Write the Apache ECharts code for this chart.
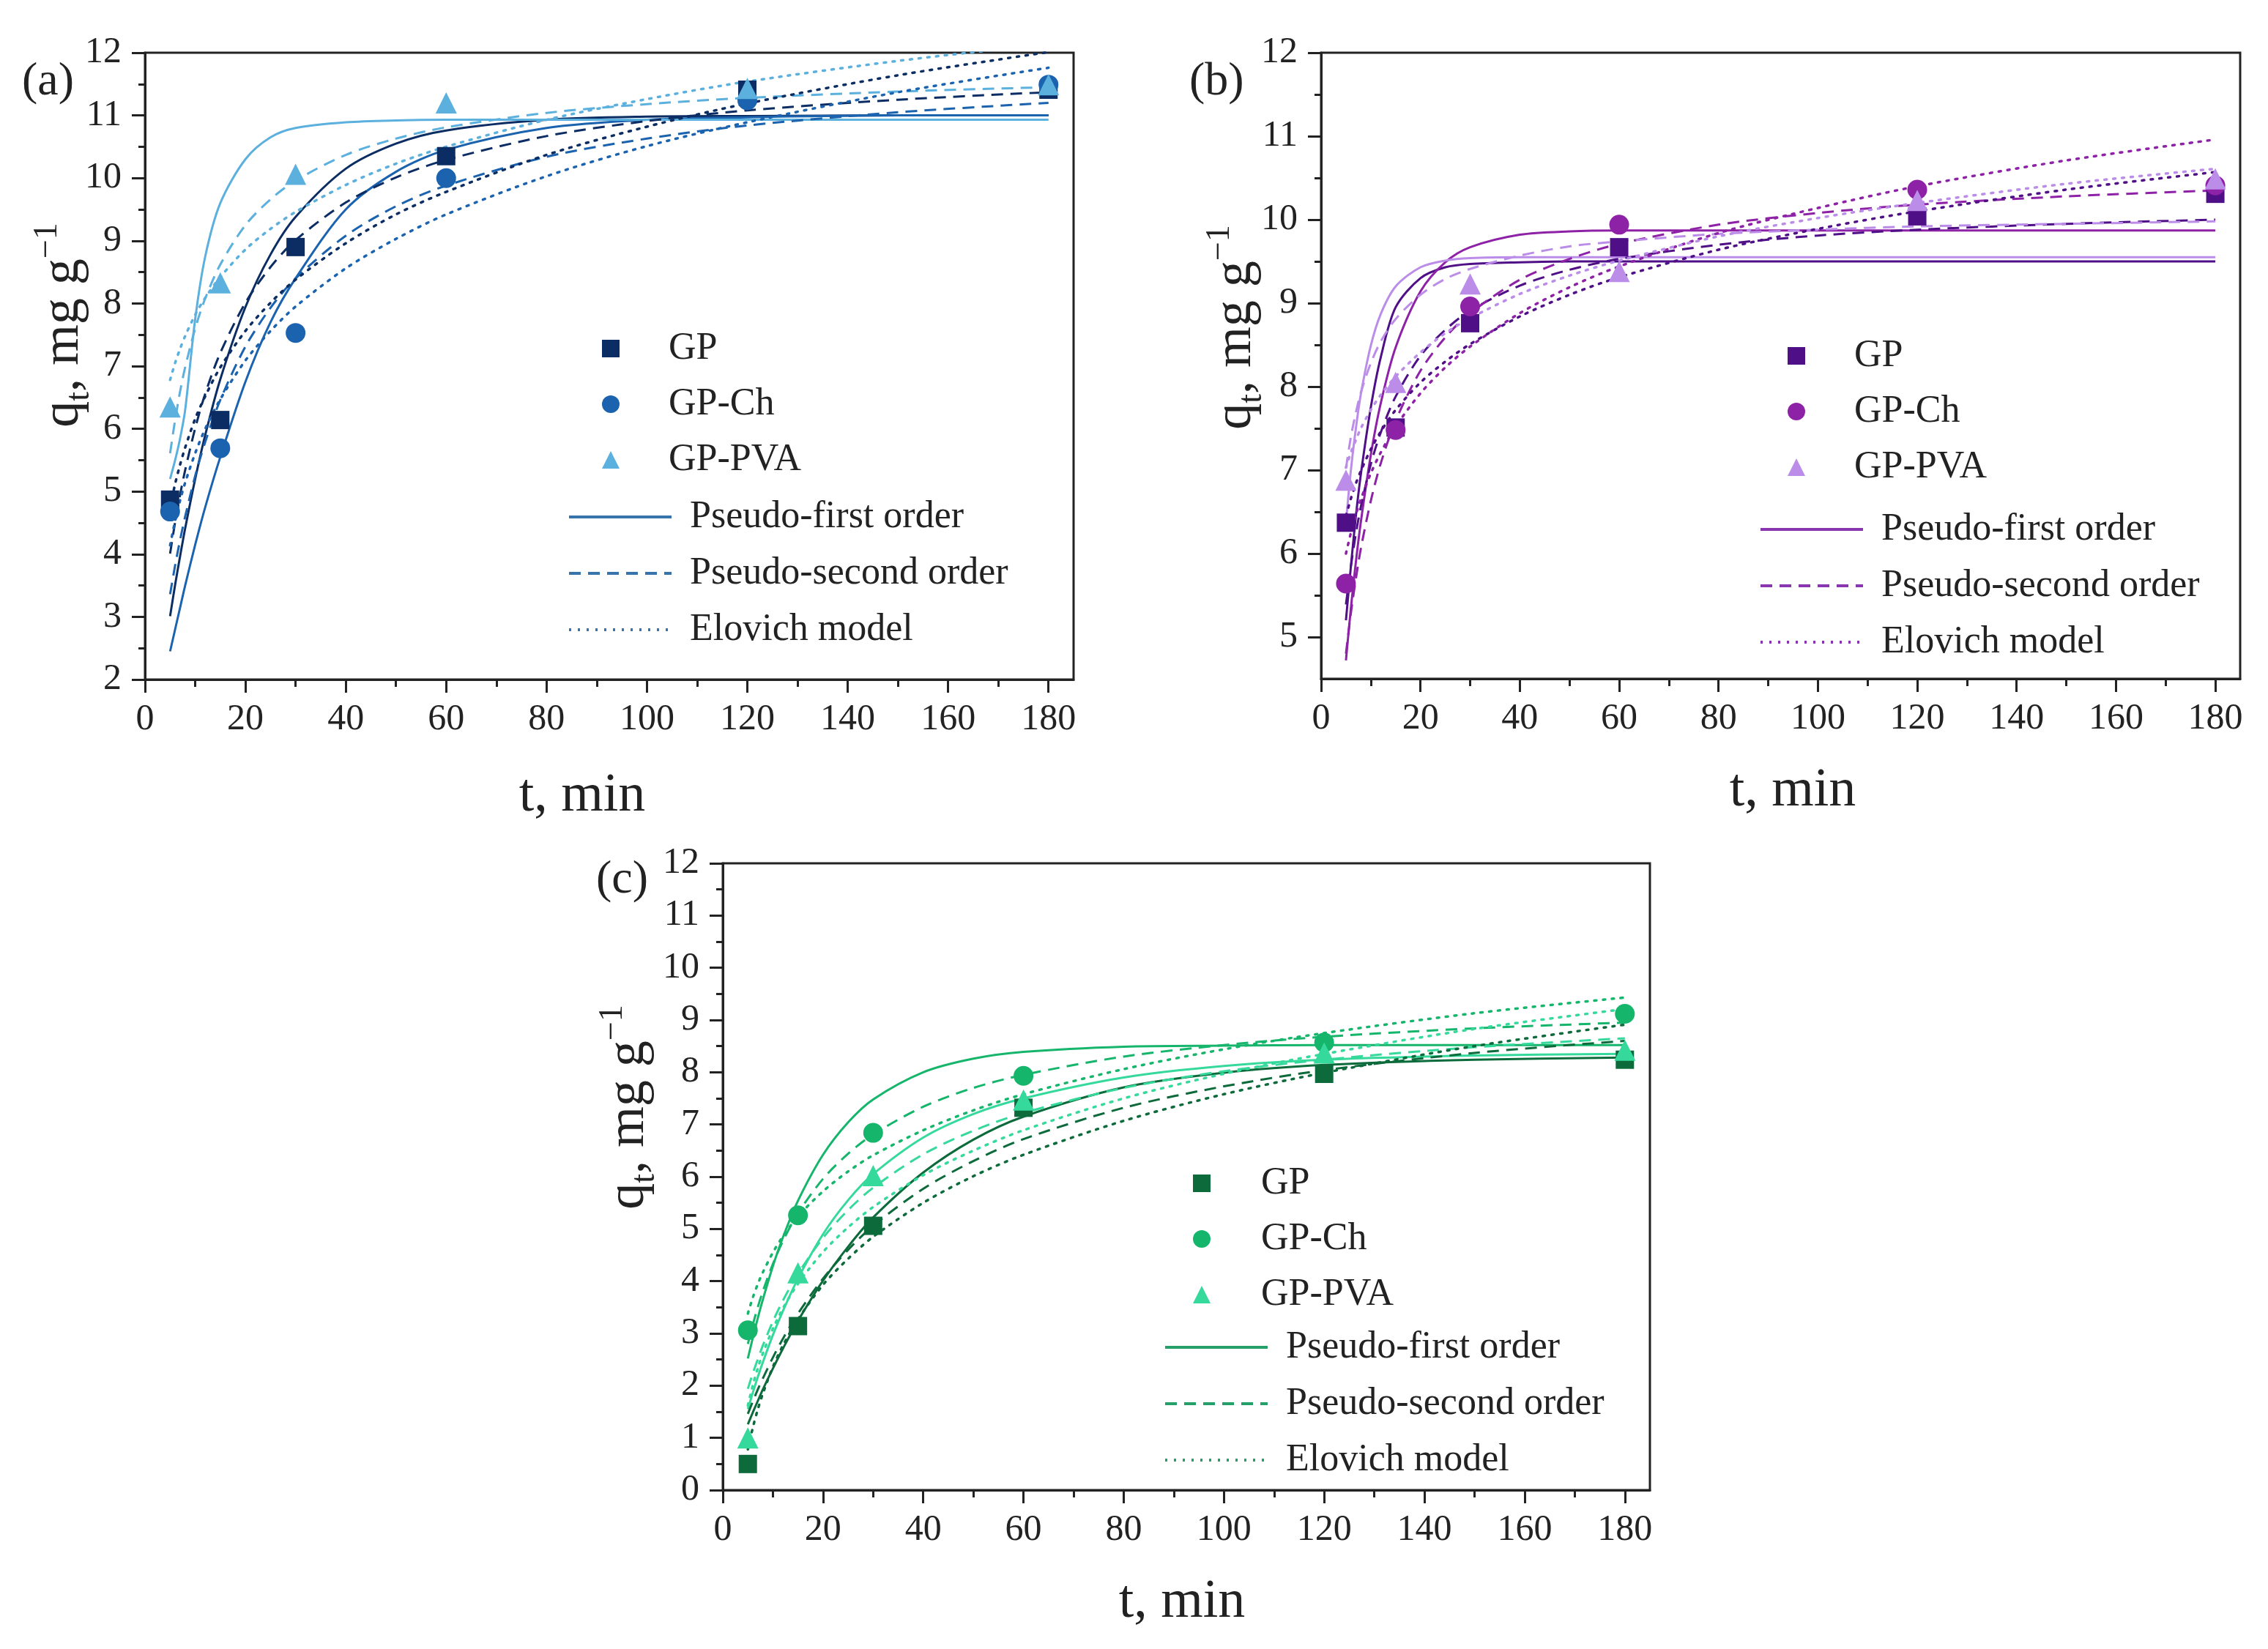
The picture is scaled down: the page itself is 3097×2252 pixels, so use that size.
<!DOCTYPE html>
<html>
<head>
<meta charset="utf-8">
<script src="https://cdn.jsdelivr.net/npm/echarts@6/dist/echarts.min.js"></script>
<style>
  html, body { margin: 0; padding: 0; background: #fff; }
  #chart { width: 3097px; height: 2252px; }
</style>
</head>
<body>
<div id="chart"></div>
<script>
// time points of the measurements and of the fitted curves (min)
const tData = [5, 15, 30, 60, 120, 180];
const tFit = [5, 6, 7, 8, 10, 12, 15, 20, 25, 30, 40, 50, 60, 80, 100, 120, 150, 180];

// tick values
const xMajor = [0, 20, 40, 60, 80, 100, 120, 140, 160, 180];
const xMinor = [10, 30, 50, 70, 90, 110, 130, 150, 170];
const yMajorA = [2, 3, 4, 5, 6, 7, 8, 9, 10, 11, 12];
const yMinorA = [2.5, 3.5, 4.5, 5.5, 6.5, 7.5, 8.5, 9.5, 10.5, 11.5];
const yMajorB = [5, 6, 7, 8, 9, 10, 11, 12];
const yMinorB = [5.5, 6.5, 7.5, 8.5, 9.5, 10.5, 11.5];
const yMajorC = [0, 1, 2, 3, 4, 5, 6, 7, 8, 9, 10, 11, 12];
const yMinorC = [0.5, 1.5, 2.5, 3.5, 4.5, 5.5, 6.5, 7.5, 8.5, 9.5, 10.5, 11.5];

const sampleNames = ['GP', 'GP-Ch', 'GP-PVA'];
const modelNames = ['Pseudo-first order', 'Pseudo-second order', 'Elovich model'];

// (a) measured q_t
const aGP = [4.87, 6.14, 8.9, 10.35, 11.41, 11.41];
const aCh = [4.68, 5.69, 7.53, 10.0, 11.24, 11.49];
const aPVA = [6.35, 8.33, 10.06, 11.2, 11.43, 11.49];
// (a) fitted curves
const aPfoGP = [3.01, 3.51, 3.97, 4.41, 5.2, 5.9, 6.79, 7.94, 8.78, 9.38, 10.15, 10.55, 10.76, 10.93, 10.98, 10.99, 11.0, 11.0];
const aPfoCh = [2.45, 2.8, 3.15, 3.5, 4.15, 4.75, 5.55, 6.75, 7.7, 8.4, 9.5, 10.1, 10.45, 10.8, 10.93, 10.97, 11.0, 11.0];
const aPfoPVA = [5.2, 5.5, 5.85, 6.3, 7.75, 8.75, 9.6, 10.3, 10.65, 10.8, 10.89, 10.92, 10.93, 10.93, 10.93, 10.93, 10.93, 10.93];
const aPsoGP = [4.01, 4.51, 4.95, 5.34, 6.01, 6.56, 7.21, 8.01, 8.58, 9.01, 9.61, 10.01, 10.29, 10.67, 10.91, 11.08, 11.25, 11.37];
const aPsoCh = [3.36, 3.82, 4.23, 4.6, 5.25, 5.79, 6.46, 7.31, 7.93, 8.4, 9.08, 9.55, 9.88, 10.34, 10.63, 10.84, 11.05, 11.2];
const aPsoPVA = [5.61, 6.14, 6.6, 6.98, 7.6, 8.08, 8.62, 9.25, 9.66, 9.96, 10.37, 10.63, 10.81, 11.04, 11.18, 11.28, 11.38, 11.45];
const aEloGP = [4.75, 5.12, 5.43, 5.7, 6.16, 6.52, 6.98, 7.56, 8.01, 8.38, 8.96, 9.42, 9.78, 10.37, 10.82, 11.19, 11.64, 12.01];
const aEloCh = [4.14, 4.53, 4.86, 5.14, 5.61, 6.0, 6.47, 7.09, 7.56, 7.95, 8.56, 9.03, 9.42, 10.03, 10.51, 10.89, 11.37, 11.76];
const aEloPVA = [6.78, 7.05, 7.28, 7.48, 7.82, 8.09, 8.42, 8.86, 9.19, 9.46, 9.89, 10.23, 10.5, 10.93, 11.26, 11.54, 11.87, 12.14];

// (b) measured q_t
const bGP = [6.37, 7.51, 8.76, 9.67, 10.04, 10.31];
const bCh = [5.64, 7.48, 8.96, 9.94, 10.36, 10.41];
const bPVA = [6.88, 8.05, 9.23, 9.38, 10.23, 10.49];
// (b) fitted curves
const bPfoGP = [5.2, 5.85, 6.45, 6.95, 7.75, 8.35, 8.95, 9.3, 9.43, 9.47, 9.49, 9.5, 9.5, 9.5, 9.5, 9.5, 9.5, 9.5];
const bPfoCh = [4.72, 5.35, 5.9, 6.38, 7.18, 7.8, 8.47, 9.14, 9.49, 9.67, 9.82, 9.86, 9.87, 9.87, 9.87, 9.87, 9.87, 9.87];
const bPfoPVA = [6.37, 7.0, 7.5, 7.91, 8.49, 8.87, 9.2, 9.43, 9.51, 9.54, 9.55, 9.55, 9.55, 9.55, 9.55, 9.55, 9.55, 9.55];
const bPsoGP = [5.39, 5.85, 6.24, 6.56, 7.07, 7.45, 7.88, 8.37, 8.68, 8.91, 9.21, 9.4, 9.53, 9.7, 9.81, 9.88, 9.95, 10.0];
const bPsoCh = [4.8, 5.29, 5.7, 6.06, 6.63, 7.08, 7.59, 8.19, 8.59, 8.88, 9.28, 9.53, 9.71, 9.94, 10.08, 10.18, 10.28, 10.35];
const bPsoPVA = [7.02, 7.4, 7.69, 7.93, 8.28, 8.54, 8.81, 9.1, 9.29, 9.41, 9.57, 9.68, 9.74, 9.83, 9.88, 9.92, 9.95, 9.98];
const bEloGP = [6.45, 6.66, 6.84, 6.99, 7.25, 7.46, 7.72, 8.05, 8.3, 8.51, 8.84, 9.1, 9.31, 9.64, 9.89, 10.1, 10.36, 10.57];
const bEloCh = [6.0, 6.25, 6.47, 6.65, 6.96, 7.21, 7.52, 7.92, 8.23, 8.48, 8.88, 9.19, 9.44, 9.84, 10.14, 10.4, 10.71, 10.96];
const bEloPVA = [7.03, 7.21, 7.36, 7.5, 7.72, 7.9, 8.12, 8.41, 8.64, 8.82, 9.11, 9.33, 9.51, 9.8, 10.02, 10.2, 10.43, 10.61];

// (c) measured q_t
const cGP = [0.5, 3.14, 5.06, 7.32, 7.97, 8.24];
const cCh = [3.06, 5.26, 6.84, 7.93, 8.57, 9.12];
const cPVA = [1.0, 4.16, 6.02, 7.47, 8.37, 8.42];
// (c) fitted curves
const cPfoGP = [1.26, 1.49, 1.71, 1.93, 2.33, 2.71, 3.24, 4.01, 4.66, 5.22, 6.08, 6.71, 7.15, 7.71, 7.99, 8.14, 8.24, 8.28];
const cPfoCh = [2.52, 2.92, 3.3, 3.65, 4.29, 4.84, 5.54, 6.42, 7.04, 7.48, 8.0, 8.26, 8.39, 8.49, 8.51, 8.52, 8.52, 8.52];
const cPfoPVA = [1.55, 1.87, 2.17, 2.45, 2.97, 3.43, 4.05, 4.9, 5.55, 6.05, 6.75, 7.2, 7.5, 7.9, 8.12, 8.24, 8.32, 8.35];
const cPsoGP = [1.46, 1.7, 1.93, 2.14, 2.54, 2.9, 3.38, 4.05, 4.6, 5.06, 5.77, 6.3, 6.72, 7.32, 7.73, 8.04, 8.37, 8.6];
const cPsoCh = [2.8, 3.17, 3.51, 3.81, 4.33, 4.77, 5.3, 5.96, 6.44, 6.81, 7.34, 7.7, 7.95, 8.3, 8.52, 8.68, 8.84, 8.95];
const cPsoPVA = [1.94, 2.24, 2.51, 2.77, 3.23, 3.63, 4.14, 4.83, 5.36, 5.79, 6.43, 6.88, 7.22, 7.7, 8.02, 8.24, 8.48, 8.65];
const cEloGP = [0.78, 1.2, 1.55, 1.85, 2.36, 2.77, 3.27, 3.93, 4.43, 4.85, 5.5, 6.01, 6.42, 7.07, 7.58, 7.99, 8.5, 8.91];
const cEloCh = [3.38, 3.69, 3.95, 4.17, 4.55, 4.86, 5.24, 5.72, 6.1, 6.41, 6.89, 7.27, 7.58, 8.06, 8.44, 8.75, 9.13, 9.43];
const cEloPVA = [1.62, 2.01, 2.34, 2.62, 3.09, 3.48, 3.95, 4.56, 5.03, 5.42, 6.03, 6.5, 6.89, 7.5, 7.97, 8.35, 8.83, 9.21];

const FONT = '"Liberation Serif", "DejaVu Serif", serif';
const INK = '#222';

const panels = [
  {
    key: 'a', grid: { left: 198, top: 72, width: 1268, height: 856 },
    yMin: 2, yMax: 12, yMajor: yMajorA, yMinor: yMinorA,
    colors: ['#0b2d63', '#1b63ae', '#5cb0de'], legendColor: '#3774ab',
    points: [aGP, aCh, aPVA],
    fits: [[aPfoGP, aPfoCh, aPfoPVA], [aPsoGP, aPsoCh, aPsoPVA], [aEloGP, aEloCh, aEloPVA]],
    mark: { left: 817, top: 441, pad: 62 }, lines: { left: 770, top: 671, pad: 20 },
    label: [30, 112], xTitle: [795, 1088], yTitle: [87, 444]
  },
  {
    key: 'b', grid: { left: 1804, top: 72, width: 1255, height: 855 },
    yMin: 4.5, yMax: 12, yMajor: yMajorB, yMinor: yMinorB,
    colors: ['#4f0f86', '#8e22a6', '#bb8de9'], legendColor: '#8a35b0',
    points: [bGP, bCh, bPVA],
    fits: [[bPfoGP, bPfoCh, bPfoPVA], [bPsoGP, bPsoCh, bPsoPVA], [bEloGP, bEloCh, bEloPVA]],
    mark: { left: 2436, top: 451, pad: 62 }, lines: { left: 2397, top: 688, pad: 20 },
    label: [1624, 112], xTitle: [2448, 1081], yTitle: [1688, 447]
  },
  {
    key: 'c', grid: { left: 987, top: 1179, width: 1266, height: 856 },
    yMin: 0, yMax: 12, yMajor: yMajorC, yMinor: yMinorC,
    colors: ['#0c6a3b', '#16b56c', '#36d99c'], legendColor: '#25a06a',
    points: [cGP, cCh, cPVA],
    fits: [[cPfoGP, cPfoCh, cPfoPVA], [cPsoGP, cPsoCh, cPsoPVA], [cEloGP, cEloCh, cEloPVA]],
    mark: { left: 1624, top: 1581, pad: 64 }, lines: { left: 1584, top: 1805, pad: 20 },
    label: [814, 1202], xTitle: [1614, 2189], yTitle: [859, 1512]
  }
];

const symbols = ['rect', 'circle', 'triangle'];
const symbolSizes = [25, 27, 29];
const lineTypes = ['solid', [16, 10], [3, 9]];

const grids = [], xAxes = [], yAxes = [], series = [], legends = [], graphics = [];

function pair(xs, ys) {
  return xs.map((x, i) => [x, ys[i]]);
}

panels.forEach((p, gi) => {
  grids.push(Object.assign({ show: true, borderColor: INK, borderWidth: 3 }, p.grid));

  const xi = xAxes.length, yi = yAxes.length;
  xAxes.push({
    type: 'value', gridIndex: gi, min: 0, max: 185, position: 'bottom',
    axisLine: { lineStyle: { color: INK, width: 3 } },
    axisTick: { customValues: xMajor, length: 18, lineStyle: { color: INK, width: 3 } },
    axisLabel: { customValues: xMajor, margin: 30, fontSize: 50, fontFamily: FONT, color: INK },
    splitLine: { show: false }
  });
  xAxes.push({
    type: 'value', gridIndex: gi, min: 0, max: 185, position: 'bottom',
    axisLine: { show: false },
    axisTick: { customValues: xMinor, length: 10, lineStyle: { color: INK, width: 3 } },
    axisLabel: { show: false }, splitLine: { show: false }
  });
  yAxes.push({
    type: 'value', gridIndex: gi, min: p.yMin, max: p.yMax, position: 'left',
    axisLine: { lineStyle: { color: INK, width: 3 } },
    axisTick: { customValues: p.yMajor, length: 18, lineStyle: { color: INK, width: 3 } },
    axisLabel: { customValues: p.yMajor, margin: 32, fontSize: 50, fontFamily: FONT, color: INK },
    splitLine: { show: false }
  });
  yAxes.push({
    type: 'value', gridIndex: gi, min: p.yMin, max: p.yMax, position: 'left',
    axisLine: { show: false },
    axisTick: { customValues: p.yMinor, length: 9, lineStyle: { color: INK, width: 3 } },
    axisLabel: { show: false }, splitLine: { show: false }
  });

  // fitted curves
  p.fits.forEach((group, mi) => {
    group.forEach((vals, si) => {
      series.push({
        type: 'line', xAxisIndex: xi, yAxisIndex: yi,
        data: pair(tFit, vals), smooth: 0.3,
        symbol: 'none', silent: true, z: 2,
        lineStyle: { color: p.colors[si], width: mi === 2 ? 3.5 : 3, type: lineTypes[mi], cap: mi === 2 ? 'round' : 'butt' }
      });
    });
  });

  // measured points
  p.points.forEach((vals, si) => {
    series.push({
      name: p.key + ':' + sampleNames[si],
      type: 'scatter', xAxisIndex: xi, yAxisIndex: yi,
      data: pair(tData, vals), symbol: symbols[si], symbolSize: symbolSizes[si],
      itemStyle: { color: p.colors[si], opacity: 1 }, z: 5
    });
  });

  // empty series that only feed the model legend
  modelNames.forEach((m, mi) => {
    series.push({
      name: p.key + ':' + m,
      type: 'line', xAxisIndex: xi, yAxisIndex: yi, data: [],
      symbol: 'none', showSymbol: false, color: p.legendColor,
      lineStyle: { color: p.legendColor, width: 4, type: lineTypes[mi] }
    });
  });

  const fmt = name => name.slice(2);
  legends.push({
    orient: 'vertical', left: p.mark.left, top: p.mark.top, selectedMode: false,
    itemWidth: 24, itemHeight: 24, itemGap: 16, formatter: fmt,
    itemStyle: { opacity: 1 },
    data: sampleNames.map(n => p.key + ':' + n),
    textStyle: { fontSize: 52, fontFamily: FONT, color: INK, lineHeight: 60, padding: [0, 0, 0, p.mark.pad] }
  });
  legends.push({
    orient: 'vertical', left: p.lines.left, top: p.lines.top, selectedMode: false,
    itemWidth: 140, itemHeight: 14, itemGap: 17, formatter: fmt,
    itemStyle: { opacity: 0 },
    lineStyle: { width: 4 },
    data: modelNames.map(n => p.key + ':' + n),
    textStyle: { fontSize: 52, fontFamily: FONT, color: INK, lineHeight: 60, padding: [0, 0, 0, p.lines.pad] }
  });

  // panel letter and axis titles
  graphics.push({
    type: 'text', x: p.label[0], y: p.label[1], silent: true,
    style: { text: '(' + p.key + ')', fontSize: 64, fontFamily: FONT, fill: INK, align: 'left', verticalAlign: 'middle' }
  });
  graphics.push({
    type: 'text', x: p.xTitle[0], y: p.xTitle[1], silent: true,
    style: { text: 't, min', fontSize: 74, fontFamily: FONT, fill: INK, align: 'center', verticalAlign: 'middle' }
  });
  graphics.push({
    type: 'text', x: p.yTitle[0], y: p.yTitle[1], rotation: Math.PI / 2, silent: true,
    style: {
      text: '{m|q}{s|t}{m|, mg g}{p|−1}', align: 'center', verticalAlign: 'middle', fill: INK,
      rich: {
        m: { fontSize: 72, fontFamily: FONT, fill: INK, lineHeight: 90 },
        s: { fontSize: 46, fontFamily: FONT, fill: INK, lineHeight: 46, verticalAlign: 'bottom' },
        p: { fontSize: 46, fontFamily: FONT, fill: INK, lineHeight: 46, verticalAlign: 'top' }
      }
    }
  });
});

const chart = echarts.init(document.getElementById('chart'), null, { renderer: 'canvas' });
chart.setOption({
  backgroundColor: '#fff',
  animation: false,
  grid: grids,
  xAxis: xAxes,
  yAxis: yAxes,
  legend: legends,
  series: series,
  graphic: graphics
});
</script>
</body>
</html>
